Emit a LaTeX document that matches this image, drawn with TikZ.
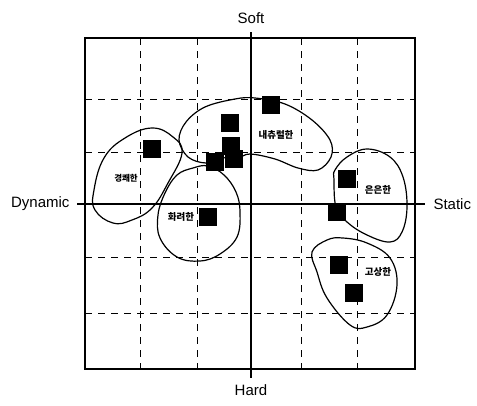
\documentclass[tikz,border=0pt]{standalone}
\usepackage{fontspec}
\setmainfont{Liberation Sans}
\newfontfamily\kr{Noto Sans CJK KR}
\begin{document}
\begin{tikzpicture}[x=1pt,y=-1pt,
  gridline/.style={line width=0.8pt,dash pattern=on 7pt off 6pt},
  frameline/.style={line width=1.3pt},
  axisline/.style={line width=1.2pt},
  blob/.style={line width=1.2pt},
  sq/.style={fill=black,inner sep=0pt,minimum size=18pt},
  axlabel/.style={font=\fontsize{15}{17}\selectfont},
  grplabel/.style={font=\kr\bfseries\fontsize{9.5}{10}\selectfont,inner sep=0pt}]
\useasboundingbox (0,0) rectangle (477,405);
% grid
\foreach \x in {140,197,301,357}{\draw[gridline] (\x,38) -- (\x,369);}
\foreach \y in {99,152,257,313}{\draw[gridline] (85,\y) -- (415,\y);}
% frame
\draw[frameline] (85,38) rectangle (415,369);
% axes
\coordinate (vtop) at (251,32);
\coordinate (vbot) at (251,378);
\coordinate (hl) at (77,204);
\coordinate (hr) at (425,204);
\draw[axisline] (vtop) -- (vbot);
\draw[axisline] (hl) -- (hr);
\node[axlabel,anchor=south] (soft) at (251,27) {Soft};
\node[axlabel,anchor=north] (hard) at (251,381) {Hard};
\node[axlabel,anchor=east] (dyn) at (73,204) {Dynamic};
\node[axlabel,anchor=west] (sta) at (430,204) {Static};
% blobs
\draw[blob] plot[smooth cycle,tension=0.7] coordinates {(94,190) (104,158) (125,138) (152,128) (173,137) (182,153) (168,183) (152,208) (132,220) (113,223) (95,210)};
\draw[blob] plot[smooth cycle,tension=0.6] coordinates {(206,163) (188,157) (179,140) (186,122) (205,107) (235,99) (255,98) (285,104) (312,120) (330,140) (331,157) (318,170) (298,168) (275,159) (250,154) (238,158) (222,158)};
\draw[blob] plot[smooth cycle,tension=0.65] coordinates {(208,166) (224,175) (236,192) (240,212) (237,237) (220,254) (200,261) (177,257) (160,238) (158,215) (165,193) (177,175) (193,168)};
\draw[blob] plot[smooth cycle,tension=0.65] coordinates {(334,180) (336,207) (347,222) (367,235) (390,242) (402,232) (407,207) (403,177) (390,157) (367,149) (347,157) (335,170)};
\draw[blob] plot[smooth cycle,tension=0.65] coordinates {(312,252) (317,272) (327,298) (350,325) (367,327) (387,315) (397,285) (390,258) (367,243) (343,238) (327,240)};
% squares
\node[sq] (s1) at (270.5,105) {};
\node[sq] (s2) at (230,122.5) {};
\node[sq] (s3) at (151.5,148.5) {};
\node[sq] (c1) at (231,146) {};
\node[sq] (c2) at (234,159) {};
\node[sq] (c3) at (215,162) {};
\node[sq] (s5) at (347,178.5) {};
\node[sq] (s6) at (337,212) {};
\node[sq] (s7) at (208,217) {};
\node[sq] (s8) at (339,265) {};
\node[sq] (s9) at (354,293) {};
% labels
\node[grplabel] (natural) at (276,135) {내츄럴한};
\node[grplabel,font=\kr\bfseries\fontsize{8.5}{9}\selectfont] (light) at (126,178) {경쾌한};
\node[grplabel] (calm) at (378,189.5) {은은한};
\node[grplabel] (fancy) at (181,217) {화려한};
\node[grplabel] (noble) at (378,272) {고상한};
\end{tikzpicture}
\end{document}
